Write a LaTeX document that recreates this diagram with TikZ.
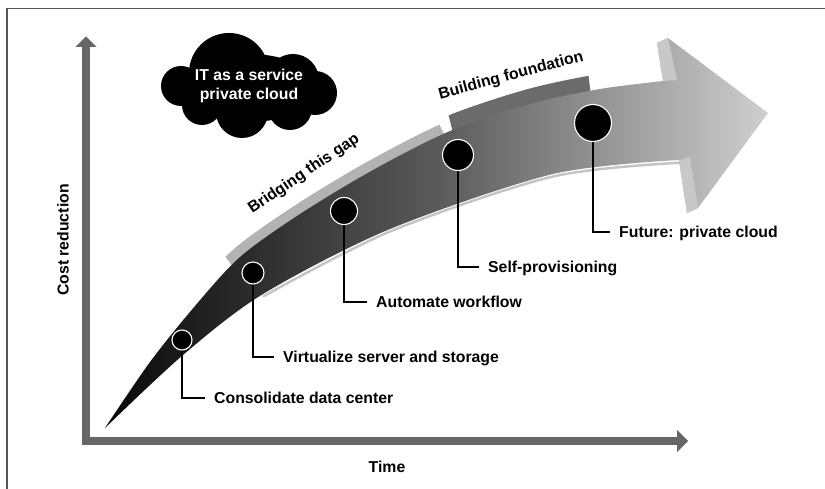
\documentclass[tikz,border=0pt]{standalone}
\usepackage{fontspec}
\setmainfont{Liberation Sans}
\definecolor{axisgray}{HTML}{666666}
\definecolor{framegray}{HTML}{555555}
\definecolor{gapgray}{HTML}{B3B3B3}
\definecolor{basegray}{HTML}{6B6B6B}
\definecolor{facegray}{HTML}{C8C8C8}
\definecolor{lipgray}{HTML}{C4C4C4}
\definecolor{tailblack}{HTML}{080808}
\definecolor{midgray}{HTML}{5A5A5A}
\definecolor{headgray}{HTML}{CFCFCF}
\pgfdeclarelayer{front}
\pgfsetlayers{main,front}
\begin{document}
\begin{tikzpicture}[x=1pt,y=-1pt,
  txt/.style={font=\bfseries\fontsize{15.8}{19}\selectfont, inner sep=0pt},
  lbl/.style={txt, text height=11.5pt, text depth=0pt, anchor=west},
  dot/.style={circle, fill=black, draw=white, line width=1.1pt, inner sep=0pt},
  leader/.style={draw=black, line width=1.1pt},
  axisline/.style={draw=axisgray, line width=8pt},
  frame/.style={draw=framegray, line width=1.6pt}]
\useasboundingbox (0,0) rectangle (825,489);

% frame lines
\draw[frame] (7,489) -- (7,8.5) -- (825,8.5);

% axes
\draw[axisline] (86,445) -- (86,46);
\fill[axisgray] (75.5,47) -- (86,36.5) -- (96.5,47) -- cycle;
\draw[axisline] (82,441) -- (678,441);
\fill[axisgray] (677,430) -- (688,441) -- (677,452) -- cycle;
\node[txt, rotate=90] (ylab) at (63,240) {Cost reduction};
\node[txt] (xlab) at (387,467) {Time};

% strips along the top edge of the arrow
\begin{scope}
  \clip (200,223) -- (421,88) -- (461,168) -- (260,303) -- cycle;
  \draw[gapgray, line width=20pt] plot[smooth] coordinates {(105,428) (150,362) (195,306) (240,257) (300,214) (373,170) (450,131) (530,104) (600,89) (663,81)};
\end{scope}
\begin{scope}
  \clip (441,85) -- (585,48) -- (595,128) -- (461,165) -- cycle;
  \draw[basegray, line width=30pt] plot[smooth] coordinates {(105,428) (150,362) (195,306) (240,257) (300,214) (373,170) (450,131) (530,104) (600,89) (663,81)};
\end{scope}

% light lip under the lower edge
\draw[lipgray, line width=2.5pt] plot[smooth] coordinates {(263,296.5) (390,231.5) (553,176.5) (684,162.5)};

% the curved arrow
\shade[left color=tailblack, right color=headgray, middle color=midgray]
  plot[smooth] coordinates {(105,428) (150,362) (195,306) (240,257) (300,214) (373,170) (450,131) (530,104) (600,89) (663,81)}
  -- (657,43) -- (668,38) -- (768,113) -- (698,208) -- (687,213)
  -- plot[smooth] coordinates {(679,160) (553,174) (390,229) (263,294) (183,355) (105,428)}
  -- cycle;
\fill[facegray] (663,81) -- (657,43) -- (668,38) -- (677,80) -- cycle;
\fill[facegray] (679,160) -- (687,213) -- (698,208) -- (690,157) -- cycle;

\node[txt, rotate=34] (gap) at (304,174) {Bridging this gap};
\node[txt, rotate=15] (found) at (511,76) {Building foundation};

% milestones
\begin{pgfonlayer}{front}
\node[dot, minimum size=20pt] (c1) at (182,340) {};
\node[dot, minimum size=22pt] (c2) at (253,273) {};
\node[dot, minimum size=27pt] (c3) at (344,211) {};
\node[dot, minimum size=31pt] (c4) at (458,155) {};
\node[dot, minimum size=37pt] (c5) at (593,123) {};
\end{pgfonlayer}

\node[lbl] (l1) at (214,398) {Consolidate data center};
\node[lbl] (l2) at (283,357) {Virtualize server and storage};
\node[lbl] (l3) at (376,302) {Automate workflow};
\node[lbl] (l4) at (488,267) {Self-provisioning};
\node[lbl] (l5) at (619,232) {Future: private cloud};

\draw[leader] (c1.center) |- ([xshift=-9pt]l1.west);
\draw[leader] (c2.center) |- ([xshift=-9pt]l2.west);
\draw[leader] (c3.center) |- ([xshift=-9pt]l3.west);
\draw[leader] (c4.center) |- ([xshift=-9pt]l4.west);
\draw[leader] (c5.center) |- ([xshift=-9pt]l5.west);

% cloud built from overlapping puffs
\begin{scope}[fill=black]
  \fill (249,88) ellipse [x radius=68pt, y radius=34pt];
  \fill (181,86) circle [radius=20pt];
  \fill (229,73) circle [radius=40pt];
  \fill (293,80) circle [radius=26pt];
  \fill (315,93) circle [radius=22pt];
  \fill (290,108) circle [radius=22pt];
  \fill (242,112) circle [radius=26pt];
  \fill (202,105) circle [radius=20pt];
\end{scope}
\node[txt, text=white, align=center] (cloudtxt) at (249,86) {IT as a service\\private cloud};
\end{tikzpicture}
\end{document}
